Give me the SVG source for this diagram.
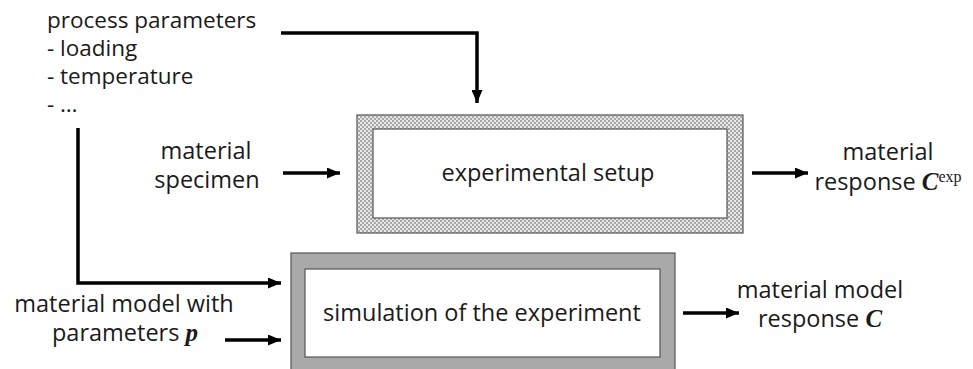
<svg xmlns="http://www.w3.org/2000/svg" width="973" height="369" viewBox="0 0 973 369">
  <defs>
    <style>
      .t { font-family: "Open Sans", "DejaVu Sans", sans-serif; font-size: 23.5px; fill: #1a1a1a; }
      .p { font-size: 22.5px; }
      .m { font-family: "Liberation Serif", "DejaVu Serif", serif; font-style: italic; font-weight: bold; font-size: 25px; }
      .sup { font-family: "Liberation Serif", "DejaVu Serif", serif; font-size: 16px; }
      .c { text-anchor: middle; }
      .conn { fill: none; stroke: #000; stroke-width: 3.5; marker-end: url(#ah); }
      .frame { stroke: #555; stroke-width: 1.2; }
    </style>
    <pattern id="checker" width="4" height="4" patternUnits="userSpaceOnUse">
      <rect width="4" height="4" fill="#e6e6e6"/>
      <rect width="2" height="2" fill="#a8a8a8"/>
      <rect x="2" y="2" width="2" height="2" fill="#a8a8a8"/>
    </pattern>
    <marker id="ah" markerWidth="13" markerHeight="11" refX="13" refY="5.5" orient="auto" markerUnits="userSpaceOnUse">
      <path d="M0,0 L13,5.5 L0,11 Z" fill="#000"/>
    </marker>
  </defs>

  <g id="process-parameters">
    <text class="t p" x="47" y="28">process parameters</text>
    <text class="t p" x="47" y="56">- loading</text>
    <text class="t p" x="47" y="84">- temperature</text>
    <text class="t p" x="47" y="112">- …</text>
  </g>

  <g id="material-specimen">
    <text class="t c" x="206" y="159">material</text>
    <text class="t c" x="207" y="188">specimen</text>
  </g>

  <g id="experimental-setup">
    <rect class="frame" x="357" y="115" width="386" height="118" fill="url(#checker)"/>
    <rect class="frame" x="373" y="129" width="354" height="89" fill="#fff"/>
    <text class="t c" x="548" y="181">experimental setup</text>
  </g>

  <g id="material-response">
    <text class="t c" x="888" y="160">material</text>
    <text class="t c" x="888" y="190">response <tspan class="m">C</tspan><tspan class="sup" dy="-8">exp</tspan></text>
  </g>

  <g id="simulation">
    <rect class="frame" x="291" y="253" width="384" height="120" fill="#a9a9a9"/>
    <rect class="frame" x="305" y="269" width="355" height="88" fill="#fff"/>
    <text class="t c" x="482" y="321">simulation of the experiment</text>
  </g>

  <g id="material-model">
    <text class="t c" x="124" y="312">material model with</text>
    <text class="t c" x="125" y="341">parameters <tspan class="m">p</tspan></text>
  </g>

  <g id="model-response">
    <text class="t c" x="820" y="298">material model</text>
    <text class="t c" x="820" y="327">response <tspan class="m">C</tspan></text>
  </g>

  <g id="connectors">
    <path class="conn" d="M281,33 H477 V103"/>
    <path class="conn" d="M78,128 V283 H281"/>
    <path class="conn" d="M225,340 H281"/>
    <path class="conn" d="M283,173 H340"/>
    <path class="conn" d="M752,173 H808"/>
    <path class="conn" d="M683,313 H739"/>
  </g>
</svg>
